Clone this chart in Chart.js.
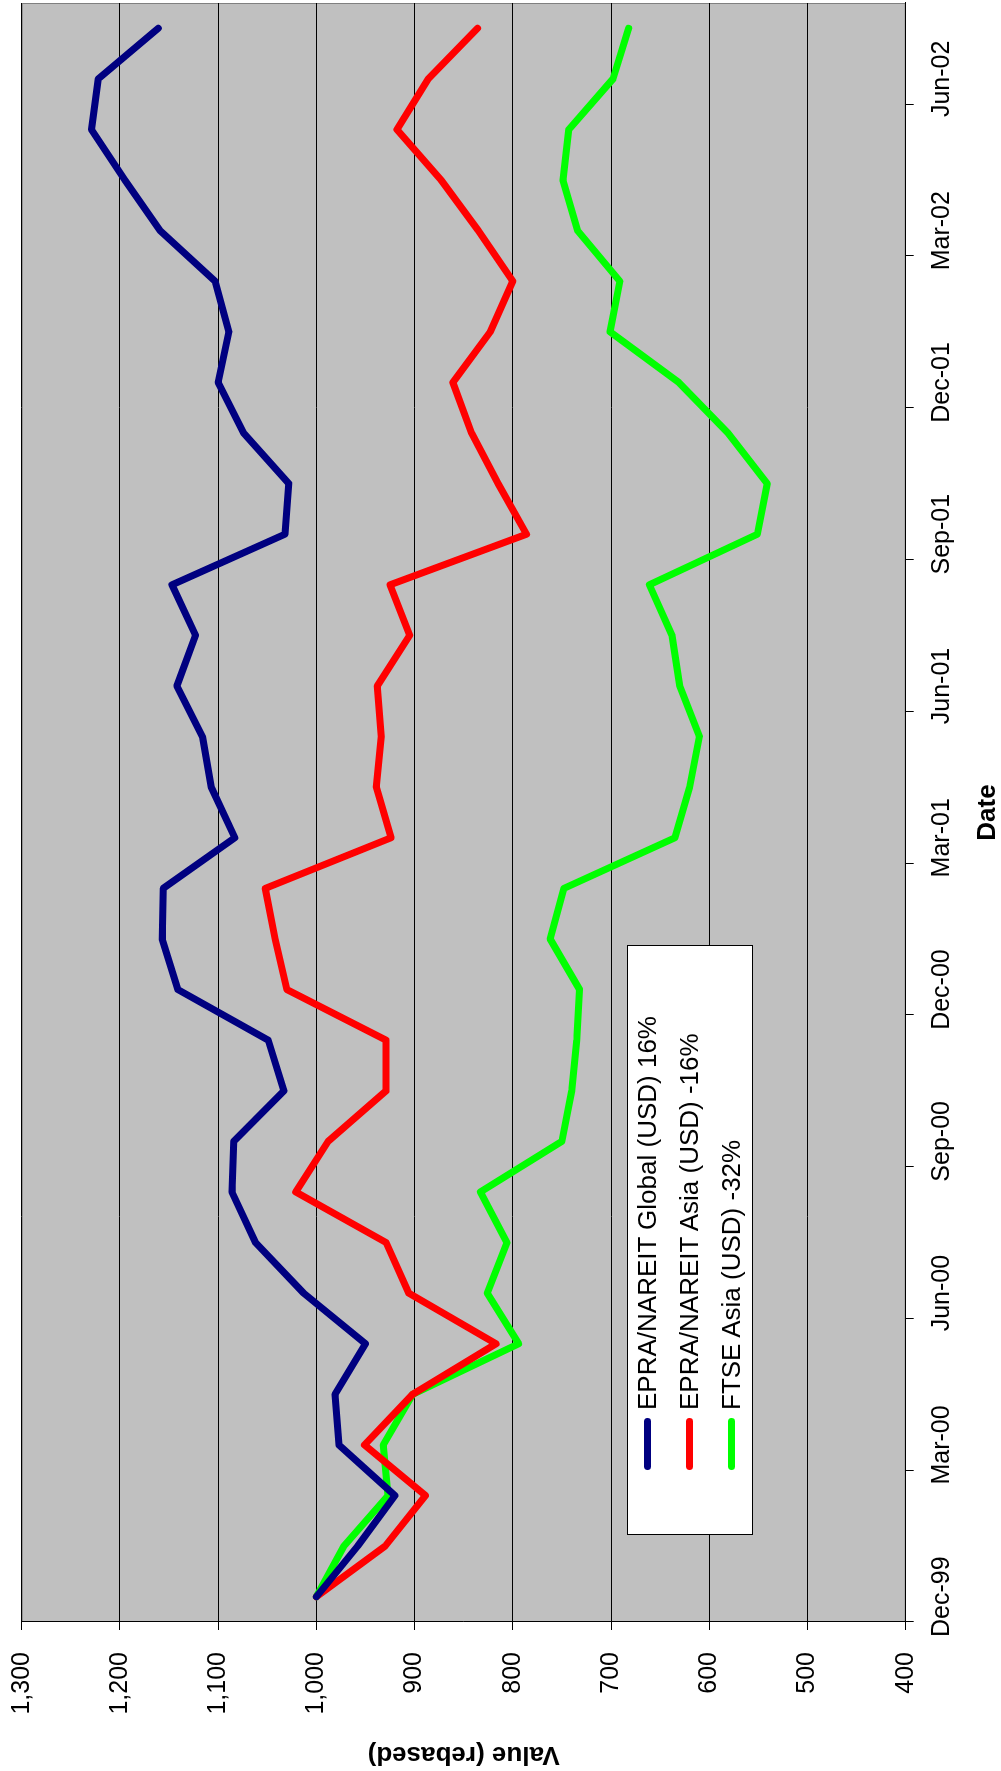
<!DOCTYPE html>
<html>
<head>
<meta charset="utf-8">
<script src="https://cdn.jsdelivr.net/npm/chart.js@4.4.1/dist/chart.umd.min.js"></script>
<style>
    html, body { margin: 0; padding: 0; background: #fff; overflow: hidden; }
    body { width: 1001px; height: 1771px; position: relative; }
    /* the chart is built landscape and turned a quarter to the left */
    #frame {
        position: absolute; left: 0; top: 0;
        width: 1771px; height: 1001px;
        transform-origin: 0 0;
        transform: translateY(1771px) rotate(-90deg);
    }
    #chart { position: absolute; left: 0; top: 0; }
    #legend {
        position: absolute; left: 236px; top: 627px;
        width: 590px; height: 126px;
        box-sizing: border-box; border: 1px solid #000; background: #fff;
        font-family: "Liberation Sans", Arial, sans-serif; font-size: 26px; color: #000;
    }
    .row { position: absolute; left: 0; height: 30px; display: flex; align-items: center; white-space: nowrap; }
    .mark { width: 52px; height: 7px; border-radius: 3.5px; margin-left: 64px; margin-right: 8px; }
</style>
</head>
<body>
<div id="frame">
    <canvas id="chart" width="1771" height="1001"></canvas>
    <div id="legend"></div>
</div>
<script>
// Dates (month ends) on the category axis
const months = ['Dec-99',
    'Jan-00', 'Feb-00', 'Mar-00', 'Apr-00', 'May-00', 'Jun-00', 'Jul-00', 'Aug-00', 'Sep-00', 'Oct-00', 'Nov-00', 'Dec-00',
    'Jan-01', 'Feb-01', 'Mar-01', 'Apr-01', 'May-01', 'Jun-01', 'Jul-01', 'Aug-01', 'Sep-01', 'Oct-01', 'Nov-01', 'Dec-01',
    'Jan-02', 'Feb-02', 'Mar-02', 'Apr-02', 'May-02', 'Jun-02', 'Jul-02'];

// Values rebased to 1000
const globalUsd = [1000, 958, 920, 977, 981, 950, 1013, 1062, 1086, 1084, 1033, 1049, 1141, 1157, 1156, 1083,
    1107, 1116, 1142, 1123, 1147, 1032, 1028, 1074, 1100, 1089, 1103, 1159, 1195, 1229, 1222, 1161];
const asiaUsd = [1000, 930, 889, 951, 902, 817, 906, 929, 1021, 988, 929, 929, 1030, 1042, 1052, 924,
    939, 934, 938, 905, 925, 786, 815, 842, 861, 823, 800, 835, 873, 918, 886, 836];
const ftseAsiaUsd = [1000, 972, 927, 932, 902, 794, 826, 806, 833, 750, 740, 735, 732, 762, 748, 635,
    620, 610, 630, 638, 661, 551, 541, 581, 631, 701, 691, 734, 749, 743, 698, 682];

const seriesNames = ['EPRA/NAREIT Global (USD) 16%', 'EPRA/NAREIT Asia (USD) -16%', 'FTSE Asia (USD) -32%'];
const seriesColors = ['#000080', '#FF0000', '#00FF00'];

const valueMin = 400;
const valueMax = 1300;
const valueStep = 100;
const tickEvery = 3; // one date label per quarter

const fontFamily = '"Liberation Sans", Arial, sans-serif';

// grey plot area with its border
const plotArea = {
    id: 'plotArea',
    beforeDraw(chart) {
        const { ctx, chartArea: a } = chart;
        ctx.save();
        ctx.fillStyle = '#C0C0C0';
        ctx.fillRect(a.left, a.top, a.right - a.left, a.bottom - a.top);
        ctx.strokeStyle = '#808080';
        ctx.lineWidth = 1;
        ctx.strokeRect(a.left + 0.5, a.top + 0.5, a.right - a.left - 1, a.bottom - a.top - 1);
        ctx.restore();
    }
};

const series = [globalUsd, asiaUsd, ftseAsiaUsd];
const datasets = series.map((values, i) => ({
    label: seriesNames[i],
    data: values,
    borderColor: seriesColors[i],
    backgroundColor: seriesColors[i],
    borderWidth: 7,
    borderCapStyle: 'round',
    borderJoinStyle: 'round',
    pointRadius: 0,
    tension: 0,
    fill: false
}));

new Chart(document.getElementById('chart'), {
    type: 'line',
    data: { labels: months, datasets: datasets },
    plugins: [plotArea],
    options: {
        responsive: false,
        animation: false,
        devicePixelRatio: 1,
        layout: { padding: { top: 21.7, right: 3, left: 0, bottom: 0 } },
        plugins: {
            legend: { display: false },
            tooltip: { enabled: false }
        },
        scales: {
            x: {
                type: 'category',
                offset: true,
                grid: {
                    display: true,
                    drawOnChartArea: false,
                    offset: true,
                    tickLength: 8,
                    color: 'rgba(0,0,0,0)',
                    tickColor: ctx => (ctx.index !== undefined && ctx.index % tickEvery === 0) ? '#000' : 'rgba(0,0,0,0)',
                    tickWidth: 1
                },
                border: { display: true, color: '#000', width: 1 },
                ticks: {
                    autoSkip: false,
                    maxRotation: 0,
                    minRotation: 0,
                    padding: 13,
                    color: '#000',
                    font: { family: fontFamily, size: 25, lineHeight: 1.2 },
                    callback: (v, i) => i % tickEvery === 0 ? months[i] : ''
                },
                title: {
                    display: true,
                    text: 'Date',
                    color: '#000',
                    font: { family: fontFamily, size: 26, weight: 'bold', lineHeight: 1 },
                    padding: { top: 0, bottom: 0 }
                },
                afterFit: scale => {
                    scale.height = 95.3;
                    scale.paddingLeft = 0;
                    scale.paddingRight = 0;
                }
            },
            y: {
                min: valueMin,
                max: valueMax,
                grid: {
                    color: '#000',
                    lineWidth: 1,
                    tickLength: 8,
                    tickColor: '#000'
                },
                border: { display: true, color: '#000', width: 1 },
                ticks: {
                    stepSize: valueStep,
                    padding: 22,
                    color: '#000',
                    font: { family: fontFamily, size: 25, lineHeight: 1.2 },
                    callback: v => v.toLocaleString('en-US')
                },
                title: {
                    display: true,
                    text: 'Value (rebased)',
                    color: '#000',
                    font: { family: fontFamily, size: 26, weight: 'bold', lineHeight: 1.2 },
                    padding: { top: 1.6, bottom: 0 }
                },
                // fixed width, and no extra room asked above the top label
                afterFit: scale => {
                    scale.width = 149;
                    scale.paddingTop = 0;
                    scale.paddingBottom = 0;
                }
            }
        }
    }
});

// legend box, drawn in the page over the plot
const legendBox = document.getElementById('legend');
const rowTops = [4, 46, 88];
seriesNames.forEach((name, i) => {
    const row = document.createElement('div');
    row.className = 'row';
    row.style.top = rowTops[i] + 'px';
    const mark = document.createElement('div');
    mark.className = 'mark';
    mark.style.background = seriesColors[i];
    const text = document.createElement('span');
    text.textContent = name;
    row.appendChild(mark);
    row.appendChild(text);
    legendBox.appendChild(row);
});
</script>
</body>
</html>
